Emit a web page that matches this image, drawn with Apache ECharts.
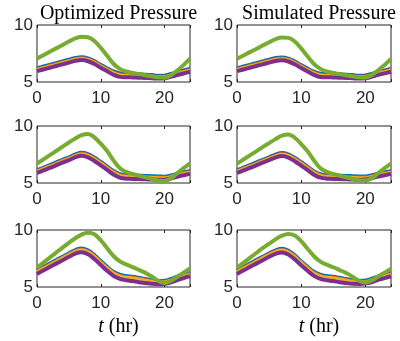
<!DOCTYPE html>
<html><head><meta charset="utf-8">
<script src="https://cdn.jsdelivr.net/npm/echarts@6/dist/echarts.min.js"></script>
<style>html,body{margin:0;padding:0;background:#fff}#c{width:400px;height:341px}</style>
</head><body><div id="c"></div>
<script>
const hours = [0,1,2,3,4,5,6,7,8,9,10,11,12,13,14,15,16,17,18,19,20,21,22,23,24];
const xTicks = [0,10,20];
const yTicks = [5,10];
const colTitles = ['Optimized Pressure','Simulated Pressure'];
const seriesNames = ['Node 1','Node 2','Node 3','Node 4','Node 5'];
const seriesColors = ['#0072BD','#D95319','#EDB120','#7E2F8E','#77AC30'];

// Optimized, row 1
const opt1Blue   = [6.25,6.4,6.55,6.7,6.85,7.0,7.15,7.22,7.12,6.88,6.55,6.25,5.97,5.8,5.75,5.72,5.7,5.68,5.65,5.6,5.6,5.75,5.9,6.05,6.2];
const opt1Orange = [6.15,6.3,6.45,6.6,6.75,6.9,7.05,7.12,7.02,6.78,6.45,6.15,5.87,5.68,5.62,5.6,5.58,5.55,5.52,5.5,5.5,5.65,5.8,5.95,6.1];
const opt1Yellow = [6.1,6.25,6.4,6.55,6.7,6.85,7.0,7.07,6.97,6.73,6.4,6.1,5.82,5.62,5.57,5.55,5.52,5.5,5.47,5.45,5.45,5.6,5.75,5.9,6.05];
const opt1Purple = [5.95,6.1,6.25,6.4,6.55,6.7,6.85,6.92,6.82,6.58,6.25,5.95,5.64,5.45,5.42,5.4,5.38,5.35,5.33,5.3,5.32,5.45,5.6,5.75,5.9];
const opt1Green  = [7.05,7.35,7.65,7.95,8.25,8.55,8.82,8.98,8.93,8.6,8.0,7.3,6.6,6.15,5.92,5.8,5.7,5.6,5.5,5.42,5.38,5.6,6.0,6.5,7.05];
// Optimized, row 2
const opt2Blue   = [6.17,6.4,6.62,6.85,7.08,7.3,7.55,7.7,7.58,7.27,6.9,6.5,6.1,5.82,5.72,5.7,5.68,5.66,5.64,5.62,5.6,5.7,5.85,5.98,6.11];
const opt2Orange = [6.07,6.3,6.52,6.75,6.98,7.2,7.45,7.6,7.48,7.17,6.8,6.4,6.0,5.72,5.62,5.6,5.58,5.56,5.54,5.52,5.5,5.6,5.75,5.88,6.01];
const opt2Yellow = [6.02,6.25,6.47,6.7,6.93,7.15,7.4,7.55,7.43,7.12,6.75,6.35,5.95,5.67,5.57,5.55,5.53,5.51,5.49,5.47,5.45,5.55,5.7,5.83,5.96];
const opt2Purple = [5.88,6.1,6.32,6.55,6.78,7.0,7.25,7.38,7.25,6.93,6.55,6.15,5.75,5.47,5.38,5.36,5.34,5.32,5.3,5.28,5.28,5.4,5.55,5.68,5.82];
const opt2Green  = [6.7,7.07,7.44,7.81,8.18,8.55,8.9,9.2,9.3,9.0,8.45,7.8,6.98,6.3,5.97,5.8,5.65,5.5,5.35,5.22,5.18,5.4,5.85,6.3,6.72];
// Optimized, row 3
const opt3Blue   = [6.5,6.8,7.1,7.4,7.7,8.0,8.28,8.42,8.25,7.85,7.33,6.82,6.38,6.12,6.0,5.95,5.85,5.75,5.65,5.58,5.6,5.75,5.95,6.1,6.28];
const opt3Orange = [6.4,6.7,7.0,7.3,7.6,7.9,8.18,8.32,8.15,7.75,7.23,6.72,6.28,6.02,5.9,5.85,5.75,5.65,5.55,5.48,5.5,5.65,5.85,6.0,6.18];
const opt3Yellow = [6.35,6.65,6.95,7.25,7.55,7.85,8.13,8.27,8.1,7.7,7.18,6.67,6.23,5.97,5.85,5.8,5.7,5.6,5.5,5.43,5.45,5.6,5.8,5.95,6.13];
const opt3Purple = [6.15,6.45,6.75,7.05,7.35,7.65,7.93,8.05,7.87,7.45,6.93,6.42,5.98,5.72,5.6,5.52,5.42,5.35,5.28,5.25,5.27,5.4,5.6,5.78,5.95];
const opt3Green  = [6.7,7.14,7.58,8.02,8.46,8.88,9.28,9.6,9.76,9.62,9.1,8.4,7.72,7.25,6.98,6.75,6.5,6.24,5.92,5.55,5.35,5.55,5.9,6.25,6.62];
// Simulated, row 1
const sim1Blue   = [6.25,6.4,6.55,6.7,6.85,7.0,7.15,7.2,7.1,6.85,6.52,6.22,5.95,5.78,5.74,5.72,5.7,5.68,5.65,5.6,5.62,5.76,5.92,6.06,6.2];
const sim1Orange = [6.15,6.3,6.45,6.6,6.75,6.9,7.05,7.1,7.0,6.75,6.42,6.12,5.85,5.67,5.62,5.6,5.58,5.55,5.52,5.5,5.52,5.66,5.82,5.96,6.1];
const sim1Yellow = [6.1,6.25,6.4,6.55,6.7,6.85,7.0,7.05,6.95,6.7,6.37,6.07,5.8,5.62,5.57,5.55,5.52,5.5,5.47,5.45,5.47,5.61,5.77,5.91,6.05];
const sim1Purple = [5.95,6.1,6.25,6.4,6.55,6.7,6.85,6.9,6.8,6.55,6.22,5.92,5.62,5.44,5.42,5.4,5.38,5.35,5.33,5.3,5.33,5.46,5.62,5.76,5.9];
const sim1Green  = [7.05,7.33,7.62,7.9,8.2,8.48,8.75,8.9,8.87,8.55,7.95,7.25,6.58,6.15,5.92,5.8,5.7,5.6,5.5,5.42,5.4,5.62,6.02,6.5,7.02];
// Simulated, row 2
const sim2Blue   = [6.17,6.4,6.62,6.85,7.08,7.3,7.53,7.68,7.56,7.25,6.88,6.48,6.08,5.82,5.72,5.7,5.68,5.66,5.64,5.62,5.62,5.72,5.86,5.98,6.1];
const sim2Orange = [6.07,6.3,6.52,6.75,6.98,7.2,7.43,7.58,7.46,7.15,6.78,6.38,5.98,5.72,5.62,5.6,5.58,5.56,5.54,5.52,5.52,5.62,5.76,5.88,6.0];
const sim2Yellow = [6.02,6.25,6.47,6.7,6.93,7.15,7.38,7.53,7.41,7.1,6.73,6.33,5.93,5.67,5.57,5.55,5.53,5.51,5.49,5.47,5.47,5.57,5.71,5.83,5.95];
const sim2Purple = [5.88,6.1,6.32,6.55,6.78,7.0,7.23,7.36,7.23,6.91,6.53,6.13,5.73,5.47,5.38,5.36,5.34,5.32,5.3,5.28,5.3,5.42,5.56,5.68,5.8];
const sim2Green  = [6.7,7.06,7.42,7.78,8.15,8.5,8.85,9.15,9.25,8.97,8.42,7.78,6.98,6.3,5.97,5.8,5.65,5.5,5.36,5.24,5.22,5.42,5.86,6.3,6.7];
// Simulated, row 3
const sim3Blue   = [6.5,6.8,7.1,7.4,7.7,8.0,8.26,8.4,8.23,7.83,7.3,6.82,6.38,6.12,6.0,5.95,5.85,5.75,5.65,5.6,5.62,5.77,5.96,6.1,6.27];
const sim3Orange = [6.4,6.7,7.0,7.3,7.6,7.9,8.16,8.3,8.13,7.73,7.2,6.72,6.28,6.02,5.9,5.85,5.75,5.65,5.55,5.5,5.52,5.67,5.86,6.0,6.17];
const sim3Yellow = [6.35,6.65,6.95,7.25,7.55,7.85,8.11,8.25,8.08,7.68,7.15,6.67,6.23,5.97,5.85,5.8,5.7,5.6,5.5,5.45,5.47,5.62,5.81,5.95,6.12];
const sim3Purple = [6.15,6.45,6.75,7.05,7.35,7.65,7.91,8.03,7.85,7.43,6.9,6.42,5.98,5.72,5.6,5.52,5.42,5.35,5.28,5.27,5.3,5.42,5.62,5.78,5.94];
const sim3Green  = [6.7,7.12,7.55,7.98,8.4,8.8,9.18,9.5,9.66,9.52,9.02,8.35,7.7,7.22,6.96,6.73,6.48,6.22,5.9,5.55,5.4,5.58,5.92,6.26,6.6];

const panels = [
  [opt1Blue,opt1Orange,opt1Yellow,opt1Purple,opt1Green],
  [sim1Blue,sim1Orange,sim1Yellow,sim1Purple,sim1Green],
  [opt2Blue,opt2Orange,opt2Yellow,opt2Purple,opt2Green],
  [sim2Blue,sim2Orange,sim2Yellow,sim2Purple,sim2Green],
  [opt3Blue,opt3Orange,opt3Yellow,opt3Purple,opt3Green],
  [sim3Blue,sim3Orange,sim3Yellow,sim3Purple,sim3Green]
];

const colLeft = [37, 237];
const colWidth = [153, 154];
const rowTop = [25, 126, 230];
const rowHeight = [57, 57, 57];
const axisColor = '#262626';
const sansFont = 'Liberation Sans';
const serifFont = 'Liberation Serif';

const grid = [], xAxis = [], yAxis = [], series = [];
panels.forEach((data, p) => {
  const r = Math.floor(p / 2), c = p % 2;
  grid.push({left: colLeft[c], top: rowTop[r], width: colWidth[c], height: rowHeight[r],
    show: true, borderColor: axisColor, borderWidth: 1, backgroundColor: '#fff', containLabel: false});
  const xi = xAxis.length;
  xAxis.push({type: 'value', gridIndex: p, min: 0, max: 24, interval: 10, position: 'bottom',
    axisLine: {show: false}, splitLine: {show: false},
    axisTick: {show: true, inside: true, length: 3, lineStyle: {color: axisColor, width: 1}},
    axisLabel: {show: true, margin: 8, color: axisColor, fontFamily: sansFont, fontSize: 17,
      formatter: v => xTicks.includes(v) ? String(v) : ''}});
  xAxis.push({type: 'value', gridIndex: p, min: 0, max: 24, interval: 10, position: 'top',
    axisLine: {show: false}, splitLine: {show: false},
    axisTick: {show: true, inside: true, length: 3, lineStyle: {color: axisColor, width: 1}},
    axisLabel: {show: false}});
  yAxis.push({type: 'value', gridIndex: p, min: 5, max: 10, interval: 5,
    axisLine: {show: false}, splitLine: {show: false},
    axisTick: {show: false},
    axisLabel: {show: true, margin: 4, color: axisColor, fontFamily: sansFont, fontSize: 17,
      formatter: v => yTicks.includes(v) ? String(v) : ''}});
  data.forEach((vals, s) => {
    series.push({type: 'line', name: seriesNames[s], xAxisIndex: xi, yAxisIndex: p,
      data: hours.map((h, i) => [h, vals[i]]), showSymbol: false, smooth: 0.4,
      lineStyle: {color: seriesColors[s], width: s === 3 || s === 4 ? 4 : 3},
      itemStyle: {color: seriesColors[s]}, animation: false, silent: true, z: 2 + s});
  });
});

const titles = [];
colTitles.forEach((t, c) => {
  titles.push({text: t, left: colLeft[c] + colWidth[c] / 2, top: -1, textAlign: 'center',
    textStyle: {fontFamily: serifFont, fontSize: 20, fontWeight: 'normal', color: '#000'}});
  titles.push({text: '{i|t} (hr)', left: colLeft[c] + colWidth[c] / 2, top: 312, textAlign: 'center',
    textStyle: {fontFamily: serifFont, fontSize: 20, fontWeight: 'normal', color: '#000',
      rich: {i: {fontFamily: serifFont, fontSize: 20, fontStyle: 'italic', color: '#000'}}}});
});

const chart = echarts.init(document.getElementById('c'), null, {renderer: 'canvas'});
chart.setOption({animation: false, backgroundColor: '#fff', title: titles, grid, xAxis, yAxis, series});
</script></body></html>
